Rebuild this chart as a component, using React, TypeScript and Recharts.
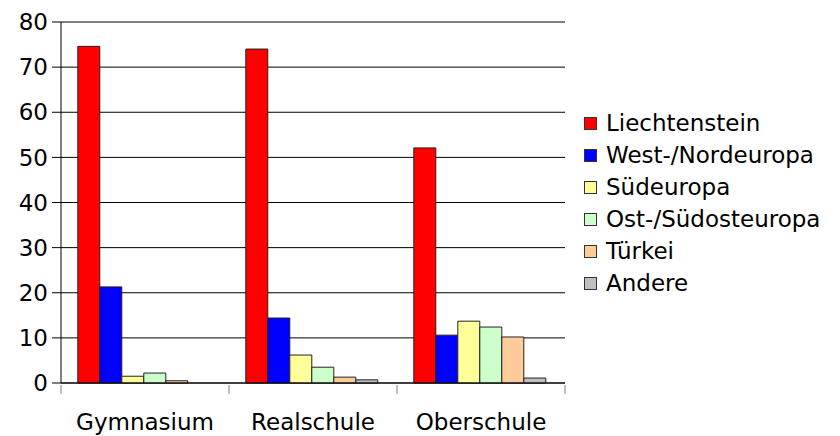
import React from 'react'
import { BarChart, Bar, XAxis, YAxis, CartesianGrid } from 'recharts'

const schools = ['Gymnasium', 'Realschule', 'Oberschule']
const liechtenstein = [74.6, 74.0, 52.1]
const westNord = [21.3, 14.4, 10.6]
const sued = [1.5, 6.2, 13.7]
const ostSuedost = [2.2, 3.5, 12.4]
const tuerkei = [0.5, 1.3, 10.2]
const andere = [0, 0.7, 1.1]
const yTicks = [0, 10, 20, 30, 40, 50, 60, 70, 80]

const SERIES = [
  { key: 'lie', name: 'Liechtenstein', values: liechtenstein, color: '#ff0000' },
  { key: 'wn', name: 'West-/Nordeuropa', values: westNord, color: '#0000ff' },
  { key: 'sue', name: 'Südeuropa', values: sued, color: '#ffff99' },
  { key: 'oso', name: 'Ost-/Südosteuropa', values: ostSuedost, color: '#ccffcc' },
  { key: 'tr', name: 'Türkei', values: tuerkei, color: '#ffcc99' },
  { key: 'and', name: 'Andere', values: andere, color: '#c0c0c0' },
]

const data = schools.map((s, i) => {
  const row: Record<string, string | number> = { school: s }
  SERIES.forEach((ser) => { row[ser.key] = ser.values[i] })
  return row
})

const FONT = '"DejaVu Sans", Verdana, sans-serif'

// category label plus tick marks on the band edges
const SchoolTick = (props: any) => {
  const { x, y, payload, index } = props
  const half = payload?.offset ?? 84
  return (
    <g>
      <line x1={x - half} y1={y - 9} x2={x - half} y2={y} stroke="#808080" />
      {index === schools.length - 1 && (
        <line x1={x + half} y1={y - 9} x2={x + half} y2={y} stroke="#808080" />
      )}
      <text x={x} y={y + 20} dy="0.71em" textAnchor="middle" fill="#000" fontSize={23} fontFamily={FONT}>
        {payload.value}
      </text>
    </g>
  )
}

export default function App() {
  return (
    <div style={{ position: 'absolute', left: 0, top: 0, width: 840, height: 436, background: '#fff' }}>
      <BarChart
        width={840}
        height={436}
        data={data}
        margin={{ top: 22, right: 275, left: 0, bottom: 0 }}
        barCategoryGap="10%"
        barGap={0}
      >
        <CartesianGrid vertical={false} stroke="#000" />
        <XAxis
          dataKey="school"
          height={53}
          axisLine={{ stroke: '#000' }}
          tickLine={false}
          tickSize={9}
          tick={<SchoolTick />}
          interval={0}
        />
        <YAxis
          width={61}
          domain={[0, 80]}
          ticks={yTicks}
          interval={0}
          axisLine={{ stroke: '#000' }}
          tickLine={{ stroke: '#000' }}
          tickSize={9}
          tickMargin={4}
          tick={{ fill: '#000', fontSize: 23, fontFamily: FONT }}
        />
        <YAxis
          yAxisId="r"
          orientation="right"
          width={0}
          domain={[0, 80]}
          tick={false}
          tickLine={false}
          axisLine={{ stroke: '#808080' }}
        />
        {SERIES.map((s) => (
          <Bar
            key={s.key}
            dataKey={s.key}
            name={s.name}
            fill={s.color}
            stroke="#222"
            strokeWidth={1}
            isAnimationActive={false}
          />
        ))}
      </BarChart>
      <div style={{ position: 'absolute', left: 584, top: 107, fontFamily: FONT, fontSize: 23, color: '#000' }}>
        {SERIES.map((s) => (
          <div key={s.key} style={{ display: 'flex', alignItems: 'center', height: 32, whiteSpace: 'nowrap' }}>
            <span style={{ display: 'inline-block', width: 11, height: 11, background: s.color, border: '1px solid #333', marginRight: 9 }} />
            <span>{s.name}</span>
          </div>
        ))}
      </div>
    </div>
  )
}
